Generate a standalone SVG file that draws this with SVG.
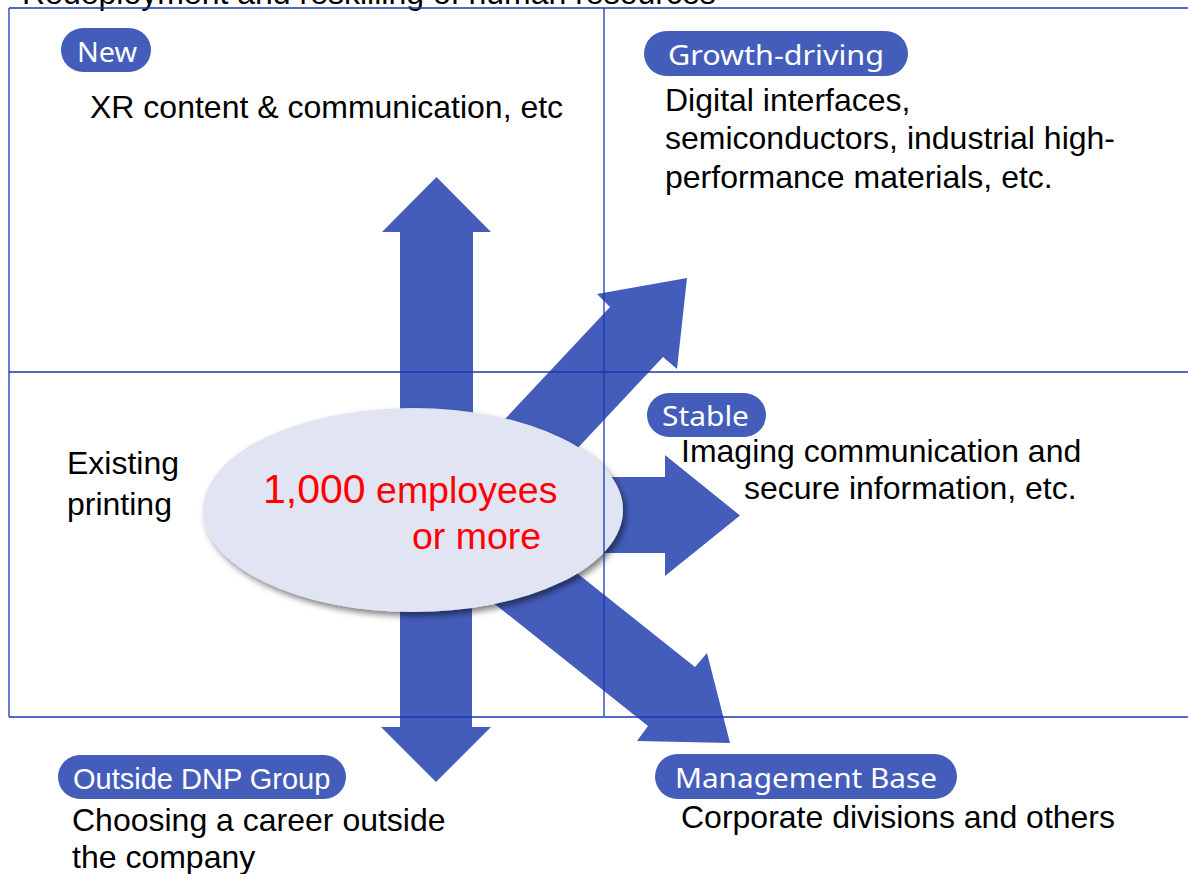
<svg xmlns="http://www.w3.org/2000/svg" width="1188" height="874" viewBox="0 0 1188 874">
  <defs>
    <filter id="ellipseShadow" x="-10%" y="-10%" width="125%" height="130%">
      <feDropShadow dx="3" dy="4" stdDeviation="3" flood-color="#000" flood-opacity="0.5"/>
    </filter>
    <style>
      .arrow { fill: #445dbb; }
      .grid { stroke: #1a36b2; stroke-width: 1.3; fill: none; }
      .pill { fill: #445dbb; }
      .pill-text { fill: #ffffff; font-family: "Noto Sans", "Open Sans", sans-serif; font-size: 28px; }
      .pill-text-arial { fill: #ffffff; font-family: "Liberation Sans", Arial, sans-serif; font-size: 29px; }
      .body { fill: #000000; font-family: "Liberation Sans", Arial, sans-serif; font-size: 32px; }
      .hub { fill: #ff0000; font-family: "Liberation Sans", Arial, sans-serif; }
    </style>
  </defs>

  <rect width="1188" height="874" fill="#ffffff"/>

  <!-- heading, partly above the frame -->
  <text class="body" x="22" y="4">Redeployment and reskilling of human resources</text>

  <!-- connectors: block arrows radiating from the centre ellipse -->
  <g id="connectors">
    <!-- up: New -->
    <polygon class="arrow" points="400,511 400,232 382,232 436.5,177 491,232 473,232 473,511"/>
    <!-- down: Outside DNP Group -->
    <polygon class="arrow" points="400,511 400,727 381,727 436,782 491,727 472,727 472,511"/>
    <!-- right: Stable -->
    <polygon class="arrow" points="413,477 665,477 665,455 740,515.5 665,576 665,553 413,553"/>
    <!-- up-right: Growth-driving -->
    <polygon class="arrow" points="439,489.5 610,307 597,294 687,278 677,369 663,357 492,539.5"/>
    <!-- down-right: Management Base -->
    <polygon class="arrow" points="499,511 695,667 707,653 730,743 637,741 648,726 452,570"/>
  </g>

  <!-- centre node -->
  <g id="node-hub">
    <ellipse cx="413" cy="510" rx="210" ry="102" fill="#e1e5f3" filter="url(#ellipseShadow)"/>
    <text class="hub" x="263" y="503"><tspan font-size="41">1,000</tspan><tspan font-size="37.5"> employees</tspan></text>
    <text class="hub" x="412" y="549" font-size="37.5">or more</text>
  </g>

  <!-- quadrant frame, drawn over the arrows -->
  <g id="frame">
    <line class="grid" x1="9" y1="8" x2="1188" y2="8"/>
    <line class="grid" x1="9" y1="8" x2="9" y2="717"/>
    <line class="grid" x1="9" y1="372" x2="1188" y2="372"/>
    <line class="grid" x1="9" y1="717" x2="1188" y2="717"/>
    <line class="grid" x1="604" y1="8" x2="604" y2="716"/>
  </g>

  <g id="node-existing">
    <text class="body" x="67" y="474" font-size="34">Existing</text>
    <text class="body" x="67" y="515" font-size="34">printing</text>
  </g>

  <g id="node-new">
    <rect class="pill" x="61" y="28" width="90" height="44" rx="22"/>
    <text class="pill-text" x="77" y="62" textLength="60" lengthAdjust="spacingAndGlyphs">New</text>
    <text class="body" x="90" y="118">XR content &amp; communication, etc</text>
  </g>

  <g id="node-growth">
    <rect class="pill" x="644" y="31" width="264" height="45" rx="22.5"/>
    <text class="pill-text" x="668" y="65" textLength="216" lengthAdjust="spacingAndGlyphs">Growth-driving</text>
    <text class="body" x="665" y="111">Digital interfaces,</text>
    <text class="body" x="665" y="149">semiconductors, industrial high-</text>
    <text class="body" x="665" y="188">performance materials, etc.</text>
  </g>

  <g id="node-stable">
    <rect class="pill" x="647" y="393" width="119" height="44" rx="22"/>
    <text class="pill-text" x="662" y="426" textLength="87" lengthAdjust="spacingAndGlyphs">Stable</text>
    <text class="body" x="681" y="462">Imaging communication and</text>
    <text class="body" x="744" y="499">secure information, etc.</text>
  </g>

  <g id="node-outside">
    <rect class="pill" x="58" y="755" width="288" height="44" rx="22"/>
    <text class="pill-text-arial" x="73" y="789">Outside DNP Group</text>
    <text class="body" x="72" y="831">Choosing a career outside</text>
    <text class="body" x="72" y="868">the company</text>
  </g>

  <g id="node-management">
    <rect class="pill" x="655" y="754" width="302" height="45" rx="22.5"/>
    <text class="pill-text" x="675" y="788" textLength="262" lengthAdjust="spacingAndGlyphs">Management Base</text>
    <text class="body" x="681" y="828">Corporate divisions and others</text>
  </g>
</svg>
